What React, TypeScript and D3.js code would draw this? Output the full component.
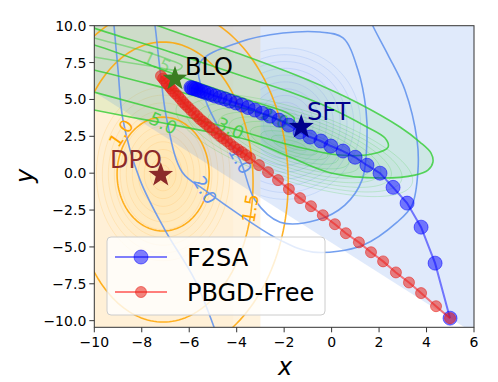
import React from "react";
import * as d3 from "d3";

const W = 498;
const H = 382;
const xTicks = [-10, -8, -6, -4, -2, 0, 2, 4, 6];
const yTicks = [-10, -7.5, -5, -2.5, 0, 2.5, 5, 7.5, 10];

// F2SA trajectory
const f2saX = [4.99, 4.36, 3.77, 3.18, 2.59, 2.04, 1.49, 0.99, 0.48, -0.03, -0.45, -0.91, -1.33, -1.8, -2.22, -2.6, -2.93, -3.23, -3.52, -3.78, -4.03, -4.28, -4.49, -4.7, -4.91, -5.08, -5.25, -5.38, -5.5, -5.63, -5.71, -5.8, -5.88, -5.93];
const f2saY = [-9.83, -6.1, -3.66, -2.03, -0.96, 0.0, 0.54, 1.08, 1.5, 1.84, 2.18, 2.45, 2.79, 3.26, 3.6, 3.87, 4.07, 4.28, 4.45, 4.62, 4.76, 4.89, 5.03, 5.13, 5.23, 5.33, 5.43, 5.5, 5.57, 5.64, 5.71, 5.74, 5.77, 5.81];

// PBGD-Free trajectory
const pbgdX = [4.99, 4.4, 3.77, 3.26, 2.71, 2.17, 1.66, 1.15, 0.6, 0.14, -0.37, -0.87, -1.33, -1.8, -2.26, -2.68, -3.06, -3.44, -3.61, -3.78, -3.94, -4.11, -4.26, -4.41, -4.56, -4.7, -4.85, -5.0, -5.15, -5.29, -5.42, -5.55, -5.67, -5.8, -5.93, -6.05, -6.16, -6.26, -6.37, -6.47, -6.58, -6.68, -6.77, -6.85, -6.94, -7.02, -7.1, -7.19];
const pbgdY = [-9.83, -9.02, -8.13, -7.41, -6.73, -5.98, -5.36, -4.69, -4.07, -3.46, -2.85, -2.24, -1.69, -1.08, -0.47, 0.07, 0.55, 1.03, 1.23, 1.43, 1.6, 1.77, 1.97, 2.18, 2.35, 2.52, 2.72, 2.93, 3.13, 3.33, 3.5, 3.67, 3.87, 4.08, 4.28, 4.48, 4.65, 4.82, 5.03, 5.23, 5.4, 5.57, 5.74, 5.91, 6.08, 6.25, 6.42, 6.59];

// Optimum markers
const starNames = ["BLO", "SFT", "DPO"];
const starX = [-6.6, -1.28, -7.2];
const starY = [6.4, 3.13, -0.12];

// DPO (orange) contour ellipses: centre, semi-axes in x-units
const orangeCx = [-7.1, -7.1, -7.1];
const orangeCy = [-0.06, -0.6, -0.6];
const orangeA = [1.94, 3.79, 5.27];
const orangeB = [2.4, 5.9, 7.37];
const orangeLabels = ["1.0", "1.5"];
const orangeLabelX = [-8.87, -3.43];
const orangeLabelY = [2.72, -2.38];
const orangeLabelRot = [-55, -80];

// SFT (blue) contour lines
const blue1X = [-5.55, -3.86, -2.05, -0.49, 0.48, 1.11, 1.45, 1.49, 1.28, 0.56, -0.62, -2.17, -3.23, -3.86, -4.7, -5.34];
const blue1Y = [7.47, 8.89, 9.5, 9.57, 9.17, 7.0, 4.28, 2.25, -0.47, -2.16, -3.18, -3.32, -1.82, 0.89, 2.92, 5.1];
const blue2X = [-7.52, -7.44, -7.23, -6.94, -6.3, -5.34, -3.86, -2.17, -0.78, 1.32, 2.76, 3.39, 3.64, 3.6, 3.09, 2.38, 1.74, 1.55];
const blue2Y = [10.73, 9.98, 7.0, 3.6, 0.08, -1.15, -2.84, -4.54, -5.35, -4.88, -3.32, -2.16, 0.21, 2.25, 5.64, 8.01, 9.98, 10.73];
const blue3X = [-9.21, -9.0, -8.79, -8.07, -7.02, -5.76, -4.91];
const blue3Y = [10.73, 7.0, 3.6, -0.47, -3.86, -7.25, -10.64];
const blueLabels = ["1.0", "2.0"];
const blueLabelX = [-3.85, -5.33];
const blueLabelY = [0.89, -1.14];

// value-gap (green) contour lines
const green5X = [-12.29, -10.01, -6.81, -3.52, -0.99, 1.11, 2.88, 3.72, 4.19, 4.27, 4.06, 3.51, 2.08, -0.03, -1.75, -3.52, -5.55, -7.1, -8.5, -10.01, -12.29];
const green5Y = [13.1, 11.61, 9.71, 7.88, 6.32, 4.76, 3.13, 2.11, 1.36, 0.75, 0.21, -0.13, -0.33, 0.01, 1.09, 2.25, 2.92, 3.4, 3.81, 4.28, 4.96];
const green3X = [-12.71, -10.01, -7.23, -4.28, -1.75, 0.35, 1.7, 2.38, 2.25, 1.41, -0.07, -1.75, -3.52, -6.81, -10.01, -12.71];
const green3Y = [6.66, 5.5, 4.28, 3.06, 1.91, 1.23, 1.3, 1.77, 2.38, 3.2, 4.42, 5.5, 6.45, 8.22, 9.84, 11.4];
const green2X = [-12.71, -10.01, -6.39, -3.44, -2.17, -1.67, -1.58, -1.96, -3.23, -5.97, -10.01, -12.71];
const green2Y = [8.01, 7.0, 5.5, 4.28, 3.6, 3.33, 3.74, 4.15, 4.82, 6.32, 8.69, 9.71];
const green15X = [-12.71, -10.01, -7.65, -6.47, -6.3, -6.81, -8.07, -10.01, -12.71];
const green15Y = [8.69, 7.88, 7.27, 7.0, 7.27, 7.67, 8.35, 9.17, 10.39];
const greenLabels = ["2.0", "3.0", "5.0", "1.5"];
const greenLabelX = [-2.39, -4.27, -7.1, -7.35];
const greenLabelY = [3.74, 3.06, 3.4, 7.54];

// faint filled-contour scales
const faintScale = [0.15, 0.28, 0.41, 0.54, 0.67, 0.8, 0.93, 1.06, 1.19, 1.32, 1.45];
const faintBlueC = [-1.97, 3.36];
const faintGreenC = [-1.57, 1.9];

const left = 94.3, right = 474, top = 25.7, bottom = 327.3;
const x = d3.scaleLinear().domain([-10, 6]).range([left, right]);
const y = d3.scaleLinear().domain([-10.45, 10]).range([bottom, top]);
const kx = (right - left) / 16;

function ellipsePath(cx: number, cy: number, a: number, b: number, tilt: number) {
  const ang = (tilt * Math.PI) / 180;
  const pts: [number, number][] = d3.range(0, 2 * Math.PI, Math.PI / 90).map((t) => {
    const ex = a * kx * Math.cos(t);
    const ey = b * kx * Math.sin(t);
    return [x(cx) + ex * Math.cos(ang) - ey * Math.sin(ang), y(cy) + ex * Math.sin(ang) + ey * Math.cos(ang)];
  });
  return d3.line().curve(d3.curveLinearClosed)(pts) || "";
}

function curvePath(xs: number[], ys: number[], closed = false) {
  const pts = xs.map((v, i) => [x(v), y(ys[i])] as [number, number]);
  return d3.line().curve(closed ? d3.curveCatmullRomClosed : d3.curveCatmullRom)(pts) || "";
}

function starPath(cx: number, cy: number, r: number) {
  const pts: [number, number][] = d3.range(10).map((i) => {
    const rr = i % 2 === 0 ? r : r * 0.4;
    const a = -Math.PI / 2 + (i * Math.PI) / 5;
    return [cx + rr * Math.cos(a), cy + rr * Math.sin(a)];
  });
  return d3.line().curve(d3.curveLinearClosed)(pts) || "";
}

const font = "DejaVu Sans, sans-serif";

export default function App() {
  const f2sa = f2saX.map((v, i) => [x(v), y(f2saY[i])] as [number, number]);
  const pbgd = pbgdX.map((v, i) => [x(v), y(pbgdY[i])] as [number, number]);
  const line = d3.line();
  const starColors = ["#3a7d22", "#00008b", "#8b2a2a"];
  const starLabelColors = ["#000", "#00008b", "#8b2a2a"];
  const blueLines = [[blue1X, blue1Y, true], [blue2X, blue2Y, false], [blue3X, blue3Y, false]] as [number[], number[], boolean][];
  const greenLines = [[green5X, green5Y], [green3X, green3Y], [green2X, green2Y], [green15X, green15Y]];
  return (
    <svg width={W} height={H} style={{ position: "absolute", left: 0, top: 0, background: "#fff" }} fontFamily={font}>
      <defs>
        <clipPath id="plot"><rect x={left} y={top} width={right - left} height={bottom - top} /></clipPath>
        <clipPath id="oclip"><rect x={left} y={top} width={x(-4.15) - left} height={bottom - top} /></clipPath>
        <clipPath id="bclip"><rect x={x(-3)} y={top} width={right - x(-3)} height={bottom - top} /></clipPath>
      </defs>
      <g clipPath="url(#plot)">
        <rect x={left} y={top} width={x(-3) - left} height={bottom - top} fill="orange" opacity={0.13} />
        <rect x={left} y={top} width={x(-4.15) - left} height={bottom - top} fill="orange" opacity={0.03} />
        <g clipPath="url(#oclip)">
          {faintScale.map((s, i) => (
            <path key={i} d={ellipsePath(orangeCx[0], orangeCy[0], orangeA[0] * s, orangeB[0] * s * 1.05, 0)} fill="orange" fillOpacity={0.015} stroke="orange" strokeOpacity={0.14} strokeWidth={1} />
          ))}
        </g>
        <path d={(d3.line()([[x(-10), y(5.5)], [x(-10), y(10)], [x(6), y(10)], [x(6), y(-10.45)], [x(5.6), y(-10.45)]]) || "") + "Z"} fill="cornflowerblue" opacity={0.2} />
        <path d={curvePath(green5X, green5Y)} fill="limegreen" fillOpacity={0.1} stroke="none" />
        <g clipPath="url(#bclip)">
          {faintScale.map((s, i) => (
            <path key={i} d={ellipsePath(faintBlueC[0], faintBlueC[1], 2.2 * s, 2.2 * s, 0)} fill="cornflowerblue" fillOpacity={0.015} stroke="cornflowerblue" strokeOpacity={0.18} strokeWidth={1} />
          ))}
        </g>
        {faintScale.map((s, i) => (
          <path key={i} d={ellipsePath(faintGreenC[0], faintGreenC[1], 3.6 * s, 1.05 * s, 18)} fill="limegreen" fillOpacity={0.02} stroke="limegreen" strokeOpacity={0.2} strokeWidth={1} />
        ))}
        {orangeA.map((a, i) => (
          <path key={i} d={ellipsePath(orangeCx[i], orangeCy[i], a, orangeB[i], 0)} fill="none" stroke="orange" strokeOpacity={0.85} strokeWidth={1.6} />
        ))}
        {blueLines.map(([xs, ys, c], i) => (
          <path key={i} d={curvePath(xs, ys, c)} fill="none" stroke="cornflowerblue" strokeOpacity={0.9} strokeWidth={1.6} />
        ))}
        {greenLines.map(([xs, ys], i) => (
          <path key={i} d={curvePath(xs, ys)} fill="none" stroke="limegreen" strokeOpacity={i === 3 ? 0.45 : 0.8} strokeWidth={1.6} />
        ))}
        {orangeLabels.map((t, i) => (
          <text key={i} x={x(orangeLabelX[i])} y={y(orangeLabelY[i])} fontSize={18} fill="orange" textAnchor="middle" dominantBaseline="central" transform={`rotate(${orangeLabelRot[i]},${x(orangeLabelX[i])},${y(orangeLabelY[i])})`}>{t}</text>
        ))}
        {blueLabels.map((t, i) => (
          <text key={i} x={x(blueLabelX[i])} y={y(blueLabelY[i])} fontSize={18} fill="cornflowerblue" textAnchor="middle" dominantBaseline="central" transform={`rotate(60,${x(blueLabelX[i])},${y(blueLabelY[i])})`}>{t}</text>
        ))}
        {greenLabels.map((t, i) => (
          <text key={i} x={x(greenLabelX[i])} y={y(greenLabelY[i])} fontSize={18} fill="limegreen" fillOpacity={i === 3 ? 0.45 : 0.8} textAnchor="middle" dominantBaseline="central" transform={`rotate(25,${x(greenLabelX[i])},${y(greenLabelY[i])})`}>{t}</text>
        ))}
        <path d={line(f2sa) || ""} fill="none" stroke="blue" strokeOpacity={0.5} strokeWidth={2} />
        {f2sa.map((p, i) => (
          <circle key={i} cx={p[0]} cy={p[1]} r={7} fill="blue" fillOpacity={0.5} stroke="blue" strokeOpacity={0.5} strokeWidth={1} />
        ))}
        <path d={line(pbgd) || ""} fill="none" stroke="red" strokeOpacity={0.5} strokeWidth={2} />
        {pbgd.map((p, i) => (
          <circle key={i} cx={p[0]} cy={p[1]} r={5.5} fill="#e8201a" fillOpacity={0.55} stroke="#e8201a" strokeOpacity={0.55} strokeWidth={1} />
        ))}
        {starNames.map((n, i) => (
          <path key={n} d={starPath(x(starX[i]), y(starY[i]), 13)} fill={starColors[i]} />
        ))}
      </g>
      <text x={185} y={75} fontSize={24} fill={starLabelColors[0]}>BLO</text>
      <text x={307} y={120} fontSize={24} fill={starLabelColors[1]}>SFT</text>
      <text x={110} y={168} fontSize={24} fill={starLabelColors[2]}>DPO</text>
      {/* legend */}
      <rect x={107} y={237} width={218} height={78} rx={4} fill="#fff" fillOpacity={0.8} stroke="#ccc" />
      <line x1={115} x2={167} y1={257} y2={257} stroke="blue" strokeOpacity={0.5} strokeWidth={2} />
      <circle cx={141} cy={257} r={7} fill="blue" fillOpacity={0.5} stroke="blue" strokeOpacity={0.5} />
      <text x={187} y={266} fontSize={24}>F2SA</text>
      <line x1={115} x2={167} y1={292} y2={292} stroke="red" strokeOpacity={0.5} strokeWidth={2} />
      <circle cx={141} cy={292} r={5.5} fill="#e8201a" fillOpacity={0.55} stroke="#e8201a" strokeOpacity={0.55} />
      <text x={187} y={301} fontSize={24}>PBGD-Free</text>
      {/* axes */}
      <rect x={left} y={top} width={right - left} height={bottom - top} fill="none" stroke="#333" strokeWidth={1} />
      {xTicks.map((t) => (
        <g key={t}>
          <line x1={x(t)} x2={x(t)} y1={bottom} y2={bottom + 5} stroke="#333" />
          <text x={x(t)} y={bottom + 20} fontSize={14} textAnchor="middle">{t < 0 ? "\u2212" + Math.abs(t) : t}</text>
        </g>
      ))}
      {yTicks.map((t) => (
        <g key={t}>
          <line x1={left - 5} x2={left} y1={y(t)} y2={y(t)} stroke="#333" />
          <text x={left - 8} y={y(t) + 5} fontSize={14} textAnchor="end">{(t < 0 ? "\u2212" : "") + Math.abs(t).toFixed(1)}</text>
        </g>
      ))}
      <text x={285} y={375} fontSize={24} fontStyle="italic" textAnchor="middle">x</text>
      <text x={0} y={0} fontSize={24} fontStyle="italic" textAnchor="middle" transform="translate(33,176) rotate(-90)">y</text>
    </svg>
  );
}
